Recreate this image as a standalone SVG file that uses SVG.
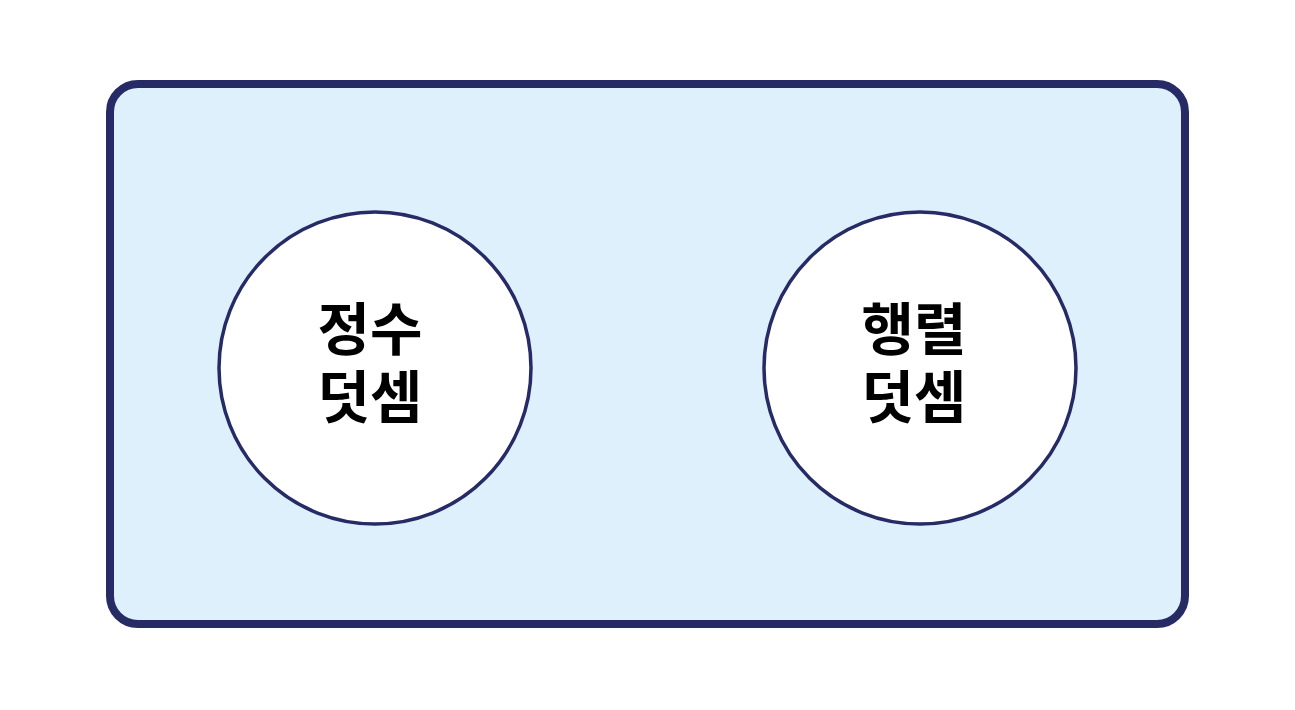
<svg xmlns="http://www.w3.org/2000/svg" width="1295" height="710" viewBox="0 0 1295 710">
<style>
.frame{fill:#def0fc;stroke:#262b66;stroke-width:8}
.node{fill:#ffffff;stroke:#262b66;stroke-width:3.5}
.lbl{font-family:"Noto Sans CJK KR","Noto Sans",sans-serif;font-weight:bold;font-size:57px;fill:#000;text-anchor:middle}
</style>
<rect width="1295" height="710" fill="#ffffff"/>
<g id="frame"><rect class="frame" x="110" y="84" width="1075" height="540" rx="28"/></g>
<g id="connectors"></g>
<g id="node-int">
<circle class="node" cx="375" cy="368" r="156"/>
<text class="lbl" x="370" y="350">정수</text>
<text class="lbl" x="370" y="418">덧셈</text>
</g>
<g id="node-matrix">
<circle class="node" cx="920" cy="368" r="156"/>
<text class="lbl" x="914" y="350">행렬</text>
<text class="lbl" x="914" y="418">덧셈</text>
</g>
</svg>
